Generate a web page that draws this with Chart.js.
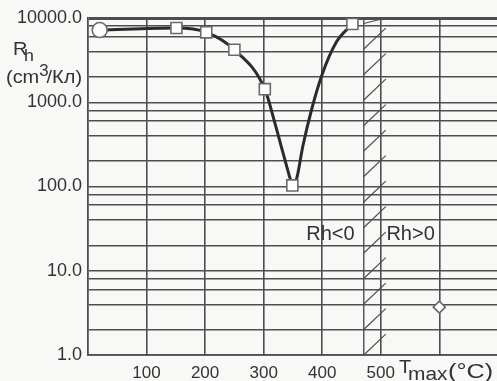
<!DOCTYPE html>
<html>
<head>
<meta charset="utf-8">
<script src="https://cdn.jsdelivr.net/npm/chart.js@4.4.1/dist/chart.umd.min.js"></script>
<style>
  html,body{margin:0;padding:0;background:#f8f8f6;overflow:hidden;}
  #wrap{width:497px;height:381px;overflow:hidden;}
  canvas{display:block;}
</style>
</head>
<body>
<div id="wrap"><canvas id="rh" width="515" height="381"></canvas></div>
<script>
// values (T in °C, Rh in cm3/Кл, log axis)
const leftX  = [20, 151, 202, 250, 302, 319, 333, 344, 349];
const leftY  = [7200, 7600, 6760, 4200, 1430, 573, 252, 133, 103];
const rightX = [349, 356, 367, 382, 399, 424, 451.6];
const rightY = [103, 121, 302, 826, 2056, 5140, 8490];

const markX     = [20, 151, 202, 250, 302, 349, 451.6];
const markY     = [7200, 7600, 6760, 4200, 1430, 103, 8490];
const markStyle = ['circle', 'rect', 'rect', 'rect', 'rect', 'rect', 'rect'];

const diamondX = [600];
const diamondY = [3.7];

const xTicks = [100, 200, 300, 400, 500, 600];
const xLabels = ['100', '200', '300', '400', '500', ''];
const yTicks = [1,2,4,6,8, 10,20,40,60,80, 100,200,400,600,800, 1000,2000,4000,6000,8000, 10000];
const yLabels = {1:'1.0', 10:'10.0', 100:'100.0', 1000:'1000.0', 10000:'10000.0'};

const hatchFrom = 471, hatchTo = 500;   // transition band, °C
const zoneText = [{t:'Rh<0', x:414, y:26.8}, {t:'Rh>0', x:551, y:26.8}];

const PX_PER_100 = 58.55;   // x spacing of the original grid
const INK = '#333', GRID = '#4e4e4e';
const FONT = '"Liberation Sans", Arial, sans-serif';

const pts = (xs, ys) => xs.map((x,i)=>({x, y:ys[i]}));

const bgPlugin = {
  id:'bg',
  beforeDraw(c){ const g=c.ctx; g.save(); g.fillStyle='#f8f8f6'; g.fillRect(0,0,c.width,c.height); g.restore(); }
};

const hatchPlugin = {
  id:'hatch',
  beforeDatasetsDraw(c){
    const g=c.ctx, xs=c.scales.x, a=c.chartArea;
    const x0=xs.getPixelForValue(hatchFrom), x1=xs.getPixelForValue(hatchTo);
    g.save();
    g.strokeStyle=GRID; g.lineWidth=1.4;
    g.beginPath(); g.moveTo(x0,a.top); g.lineTo(x0,a.bottom); g.stroke();
    g.lineWidth=1.2;
    const w=(x1-x0)+5, step=25.5;
    for(let y=a.bottom; y>a.top+4; y-=step){
      g.beginPath(); g.moveTo(x0,y); g.lineTo(x0+w, Math.max(a.top, y-w*0.95)); g.stroke();
    }
    g.restore();
  }
};

function wide(g, txt, x, y, sx){
  g.save(); g.translate(x,y); g.scale(sx,1); g.fillText(txt,0,0); g.restore();
  return g.measureText(txt).width*sx;
}

const textPlugin = {
  id:'texts',
  afterDraw(c){
    const g=c.ctx, xs=c.scales.x, ys=c.scales.y;
    g.save();
    g.fillStyle=INK; g.textBaseline='alphabetic'; g.textAlign='left';
    // y title
    g.font='19px '+FONT; wide(g,'R',13,55,1.05);
    g.font='17px '+FONT; wide(g,'h',24,61,1.05);
    g.font='19px '+FONT;
    let x=6; x+=wide(g,'(cm',x,83,1.05);
    g.font='16px '+FONT; x+=wide(g,'3',x,76,1.05)-2;
    g.font='19px '+FONT; wide(g,'/Кл)',x,83,1.05);
    // x title
    g.font='19px '+FONT; wide(g,'T',399,373,1.05);
    g.font='19px '+FONT; wide(g,'max',408,380,1.1);
    g.font='21px '+FONT; wide(g,'(°C)',448,378,1.2);
    // zone labels
    g.font='20px '+FONT; g.textAlign='center'; g.textBaseline='middle';
    zoneText.forEach(z=>g.fillText(z.t, xs.getPixelForValue(z.x), ys.getPixelForValue(z.y)));
    g.restore();
  }
};

const lineDs = (data) => ({
  data, showLine:true, borderColor:'#2b2b2b', borderWidth:3,
  pointRadius:0, cubicInterpolationMode:'monotone', order:2
});

const chart = new Chart(document.getElementById('rh'), {
  type:'scatter',
  data:{
    datasets:[
      { data:pts(markX, markY), showLine:false, pointStyle:markStyle,
        pointRadius:markStyle.map(s=>s==='circle'?7.5:7.8),
        pointBackgroundColor:'#ffffff', pointBorderColor:'#6a6a6a', pointBorderWidth:1.6, order:0 },
      { data:pts(diamondX, diamondY), showLine:false, pointStyle:'rectRot', pointRadius:6,
        pointBackgroundColor:'#ffffff', pointBorderColor:'#6a6a6a', pointBorderWidth:1.6, order:0 },
      lineDs(pts(leftX, leftY)),
      lineDs(pts(rightX, rightY))
    ]
  },
  options:{
    responsive:false, animation:false,
    layout:{padding:{top:18, right:0, left:0, bottom:0}},
    plugins:{legend:{display:false}, tooltip:{enabled:false}},
    scales:{
      x:{
        type:'linear', min:0, max:700,
        afterBuildTicks:s=>{ s.ticks = xTicks.map(v=>({value:v})); },
        afterFit:s=>{ s.height = 26; },
        ticks:{ autoSkip:false, maxRotation:0, padding:8, color:INK, font:{family:FONT, size:17},
          callback:(v)=>xLabels[xTicks.indexOf(v)] ?? '' },
        grid:{ color:GRID, lineWidth:1.6, tickLength:0 },
        border:{ color:GRID, width:1.8 }
      },
      y:{
        type:'logarithmic', min:1, max:10000,
        afterBuildTicks:s=>{ s.ticks = yTicks.map(v=>({value:v})); },
        afterFit:s=>{ s.width = 88; },
        ticks:{ autoSkip:false, padding:6, color:INK, font:{family:FONT, size:18},
          callback:(v)=>yLabels[v] ?? '' },
        grid:{ color:GRID, lineWidth:c=>c.tick && c.tick.value===10000 ? 3 : 1.4, tickLength:0 },
        border:{ color:GRID, width:1.8 }
      }
    }
  },
  plugins:[bgPlugin, hatchPlugin, textPlugin]
});

// match the original grid spacing to whatever width the plot area got
const area = chart.chartArea;
chart.options.scales.x.max = (area.right - area.left) / PX_PER_100 * 100;
chart.update();
</script>
</body>
</html>
